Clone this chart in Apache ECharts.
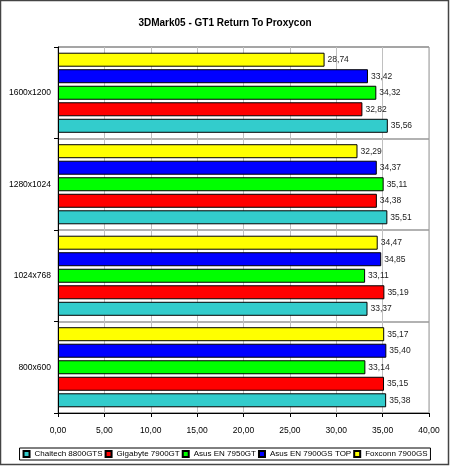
<!DOCTYPE html>
<html>
<head>
<meta charset="utf-8">
<script src="https://cdn.jsdelivr.net/npm/echarts@6/dist/echarts.min.js"></script>
<style>
html, body { margin: 0; padding: 0; background: #fff; }
#chart { width: 450px; height: 466px; }
</style>
</head>
<body>
<div id="chart"></div>
<script>
// resolutions, bottom to top
const resolutions = ['800x600', '1024x768', '1280x1024', '1600x1200'];
const chaitech = [35.38, 33.37, 35.51, 35.56];
const gigabyte = [35.15, 35.19, 34.38, 32.82];
const asus7950 = [33.14, 33.11, 35.11, 34.32];
const asus7900 = [35.40, 34.85, 34.37, 33.42];
const foxconn = [35.17, 34.47, 32.29, 28.74];
const xTicks = [0, 5, 10, 15, 20, 25, 30, 35, 40];
const legendNames = ['Chaitech 8800GTS', 'Gigabyte 7900GT', 'Asus EN 7950GT', 'Asus EN 7900GS TOP', 'Foxconn 7900GS'];

const font = 'Liberation Sans, Arial, sans-serif';
const fmt = v => v.toFixed(2).replace('.', ',');

function bar(name, data, color) {
    return {
        name: name,
        type: 'bar',
        data: data,
        barWidth: 14,
        barGap: '18%',
        itemStyle: { color: color, borderColor: '#000', borderWidth: 1 },
        label: {
            show: true,
            position: 'right',
            distance: 3,
            color: '#222',
            fontFamily: font,
            fontSize: 8.5,
            formatter: p => fmt(p.value)
        }
    };
}

const chart = echarts.init(document.getElementById('chart'), null, { renderer: 'canvas' });

chart.setOption({
    animation: false,
    backgroundColor: '#fff',
    title: {
        text: '3DMark05 - GT1 Return To Proxycon',
        left: 'center',
        top: 13,
        textStyle: { fontFamily: font, fontSize: 10, fontWeight: 'bold', color: '#000' }
    },
    legend: {
        bottom: 6,
        left: 'center',
        itemWidth: 6,
        itemHeight: 6,
        itemGap: 2,
        padding: [2, 3],
        borderColor: '#000',
        borderWidth: 1,
        icon: 'rect',
        data: legendNames,
        textStyle: { fontFamily: font, fontSize: 8, color: '#000' }
    },
    grid: { left: 58, right: 21, top: 47, bottom: 53, show: true, borderColor: '#999', borderWidth: 1 },
    xAxis: {
        type: 'value',
        min: xTicks[0],
        max: xTicks[xTicks.length - 1],
        interval: 5,
        axisLine: { show: true, lineStyle: { color: '#000' } },
        axisTick: { show: true, length: 4, lineStyle: { color: '#000' } },
        axisLabel: { fontFamily: font, fontSize: 8.5, color: '#000', margin: 13, formatter: v => fmt(v) },
        splitLine: { show: true, lineStyle: { color: '#c0c0c0' } }
    },
    yAxis: {
        type: 'category',
        data: resolutions,
        axisLine: { show: true, lineStyle: { color: '#000' } },
        axisTick: { show: true, length: 4, lineStyle: { color: '#000' } },
        axisLabel: { fontFamily: font, fontSize: 8.5, color: '#000', margin: 7 },
        splitLine: { show: true, lineStyle: { color: '#999', width: 1.5 } }
    },
    graphic: [{
        type: 'rect',
        shape: { x: 0.5, y: 0.5, width: 448, height: 464 },
        style: { fill: 'none', stroke: '#444', lineWidth: 1.5 },
        silent: true
    }],
    // first series is drawn at the top of each group, so Foxconn goes first
    series: [
        bar('Foxconn 7900GS', foxconn, '#ffff00'),
        bar('Asus EN 7900GS TOP', asus7900, '#0000ff'),
        bar('Asus EN 7950GT', asus7950, '#00ff00'),
        bar('Gigabyte 7900GT', gigabyte, '#ff0000'),
        bar('Chaitech 8800GTS', chaitech, '#33cccc')
    ]
});
</script>
</body>
</html>
